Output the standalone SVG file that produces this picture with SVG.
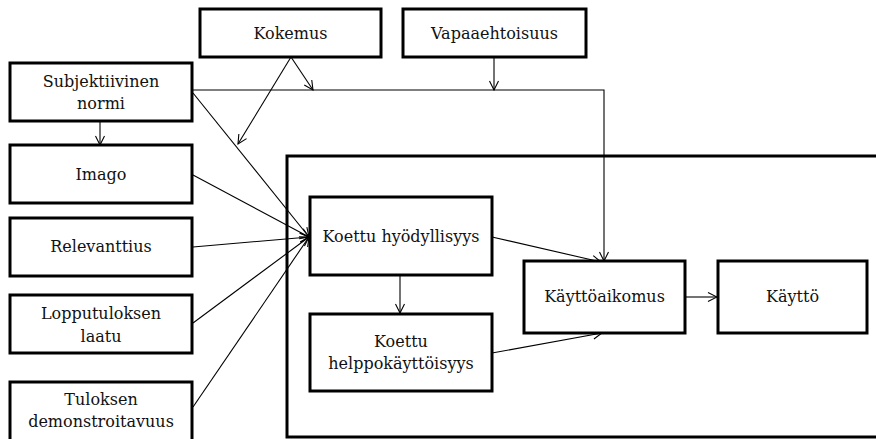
<svg xmlns="http://www.w3.org/2000/svg" width="876" height="439" viewBox="0 0 876 439">
  <style>
    .box { fill: #fff; stroke: #000; stroke-width: 3; }
    .frame { fill: none; stroke: #000; stroke-width: 3; }
    .lbl { font-family: 'DejaVu Serif', 'Liberation Serif', 'Noto Serif', serif; font-size: 16px; fill: #111; text-anchor: middle; }
    .edge { fill: none; stroke: #000; stroke-width: 1.1; }
  </style>
  <defs>
    <marker id="arrow" markerUnits="userSpaceOnUse" viewBox="-11 -6 12 12" refX="0" refY="0" markerWidth="12" markerHeight="12" orient="auto">
      <path d="M-9,-4.5 L0,0 L-9,4.5" fill="none" stroke="#000" stroke-width="1.1"/>
    </marker>
  </defs>

  <rect width="876" height="439" fill="#fff"/>

  <!-- outer frame around the core model -->
  <rect class="frame" x="287" y="156" width="600" height="281"/>

  <g id="connectors">
    <!-- Subjektiivinen normi -> Imago -->
    <line class="edge" x1="100" y1="121" x2="100" y2="145" marker-end="url(#arrow)"/>
    <!-- Subjektiivinen normi -> Käyttöaikomus -->
    <polyline class="edge" points="192,90 604,90 604,261" marker-end="url(#arrow)"/>
    <!-- Vapaaehtoisuus moderates -->
    <line class="edge" x1="494" y1="57" x2="494" y2="90" marker-end="url(#arrow)"/>
    <!-- Kokemus moderates -->
    <line class="edge" x1="291" y1="57" x2="313" y2="90" marker-end="url(#arrow)"/>
    <line class="edge" x1="291" y1="57" x2="238" y2="144" marker-end="url(#arrow)"/>
    <!-- inputs -> Koettu hyödyllisyys -->
    <line class="edge" x1="193" y1="93" x2="309" y2="237" marker-end="url(#arrow)"/>
    <line class="edge" x1="193" y1="175" x2="309" y2="237" marker-end="url(#arrow)"/>
    <line class="edge" x1="193" y1="247" x2="309" y2="237" marker-end="url(#arrow)"/>
    <line class="edge" x1="193" y1="323" x2="309" y2="237" marker-end="url(#arrow)"/>
    <line class="edge" x1="193" y1="407" x2="309" y2="237" marker-end="url(#arrow)"/>
    <!-- Koettu hyödyllisyys -> Käyttöaikomus -->
    <line class="edge" x1="492" y1="237" x2="601" y2="262" marker-end="url(#arrow)"/>
    <!-- Koettu hyödyllisyys -> Koettu helppokäyttöisyys -->
    <line class="edge" x1="400" y1="275" x2="400" y2="313" marker-end="url(#arrow)"/>
    <!-- Koettu helppokäyttöisyys -> Käyttöaikomus -->
    <line class="edge" x1="492" y1="353" x2="602" y2="333" marker-end="url(#arrow)"/>
    <!-- Käyttöaikomus -> Käyttö -->
    <line class="edge" x1="685" y1="297" x2="717" y2="297" marker-end="url(#arrow)"/>
  </g>

  <g id="kokemus">
    <rect class="box" x="200" y="9" width="181" height="48"/>
    <text class="lbl" x="290.5" y="39">Kokemus</text>
  </g>
  <g id="vapaaehtoisuus">
    <rect class="box" x="403" y="9" width="183" height="48"/>
    <text class="lbl" x="494.5" y="39">Vapaaehtoisuus</text>
  </g>
  <g id="subjektiivinen-normi">
    <rect class="box" x="10" y="63" width="182" height="58"/>
    <text class="lbl" x="101" y="87">Subjektiivinen</text>
    <text class="lbl" x="101" y="109">normi</text>
  </g>
  <g id="imago">
    <rect class="box" x="10" y="145" width="182" height="58"/>
    <text class="lbl" x="101" y="180">Imago</text>
  </g>
  <g id="relevanttius">
    <rect class="box" x="10" y="218" width="182" height="58"/>
    <text class="lbl" x="101" y="252">Relevanttius</text>
  </g>
  <g id="lopputuloksen-laatu">
    <rect class="box" x="10" y="295" width="182" height="58"/>
    <text class="lbl" x="101" y="319">Lopputuloksen</text>
    <text class="lbl" x="101" y="342">laatu</text>
  </g>
  <g id="tuloksen-demonstroitavuus">
    <rect class="box" x="10" y="382" width="182" height="64"/>
    <text class="lbl" x="101" y="405">Tuloksen</text>
    <text class="lbl" x="101" y="427">demonstroitavuus</text>
  </g>
  <g id="koettu-hyodyllisyys">
    <rect class="box" x="310" y="197" width="182" height="78"/>
    <text class="lbl" x="401" y="242">Koettu hyödyllisyys</text>
  </g>
  <g id="koettu-helppokayttoisyys">
    <rect class="box" x="310" y="314" width="182" height="77"/>
    <text class="lbl" x="401" y="347">Koettu</text>
    <text class="lbl" x="401" y="369">helppokäyttöisyys</text>
  </g>
  <g id="kayttoaikomus">
    <rect class="box" x="524" y="261" width="161" height="72"/>
    <text class="lbl" x="604.5" y="302">Käyttöaikomus</text>
  </g>
  <g id="kaytto">
    <rect class="box" x="718" y="261" width="149" height="72"/>
    <text class="lbl" x="792.5" y="302">Käyttö</text>
  </g>
</svg>
